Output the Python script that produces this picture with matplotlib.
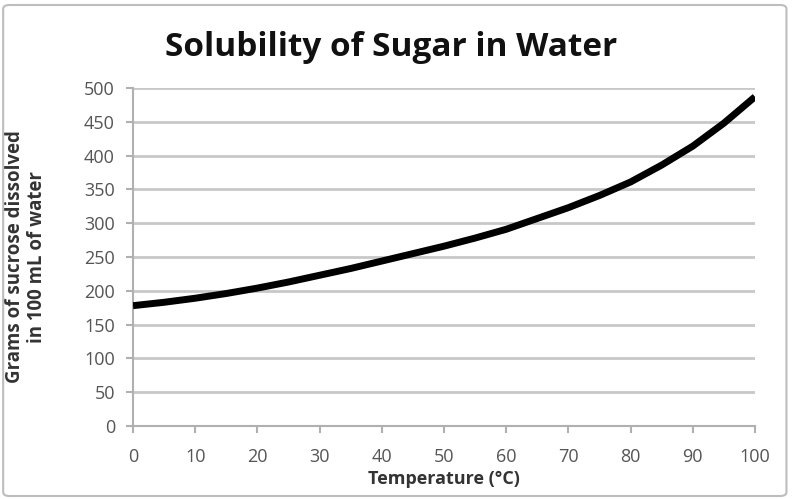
import matplotlib.pyplot as plt
from matplotlib.patches import FancyBboxPatch

# values every 5 degrees
temperature = [0, 5, 10, 15, 20, 25, 30, 35, 40, 45, 50, 55, 60, 65, 70, 75, 80, 85, 90, 95, 100]
grams_sucrose = [178, 183, 189, 196, 204, 213, 223, 233, 244, 255, 266, 278, 291, 307, 323, 341, 361, 386, 414,
                 448, 487]
x_ticks = [0, 10, 20, 30, 40, 50, 60, 70, 80, 90, 100]
y_ticks = [0, 50, 100, 150, 200, 250, 300, 350, 400, 450, 500]

plt.rcParams['font.family'] = ['Open Sans', 'DejaVu Sans']

fig = plt.figure(figsize=(7.92, 4.99), dpi=100)
ax = fig.add_axes([133 / 792, 1 - 426 / 499, (755 - 133) / 792, (426 - 88) / 499])

# frame around the whole chart
fig.patches.append(FancyBboxPatch((0.004, 0.006), 0.989, 0.984, boxstyle='round,pad=0,rounding_size=0.008',
                                  transform=fig.transFigure, fill=False, edgecolor='#bdbdbd', linewidth=1.5))

ax.plot(temperature, grams_sucrose, color='black', linewidth=5, solid_capstyle='butt',
        solid_joinstyle='round', zorder=3)

ax.set_xlim(0, 100)
ax.set_ylim(0, 500)
ax.set_xticks(x_ticks)
ax.set_yticks(y_ticks)
ax.yaxis.grid(True, color='#c8c8c8', linewidth=2)
ax.set_axisbelow(True)
for side in ['top', 'right']:
    ax.spines[side].set_visible(False)
for side in ['left', 'bottom']:
    ax.spines[side].set_color('#b0b0b0')
    ax.spines[side].set_linewidth(1.5)
ax.tick_params(axis='x', colors='#b0b0b0', labelcolor='#555555', labelsize=13, length=5, width=1.5, pad=11)
ax.tick_params(axis='y', colors='#b0b0b0', labelcolor='#555555', labelsize=13, length=5, width=1.5, pad=8)

fig.text(391 / 792, 1 - 47 / 499, 'Solubility of Sugar in Water', ha='center', va='center',
         fontsize=24, fontweight='bold', color='#111111')
ax.set_xlabel('Temperature (°C)', fontsize=13, fontweight='bold', color='#333333', va='center')
ax.xaxis.set_label_coords(0.5, -0.157)
ax.set_ylabel('Grams of sucrose dissolved\nin 100 mL of water', fontsize=13.4, fontweight='bold',
              color='#333333', linespacing=1.1, va='center')
ax.yaxis.set_label_coords(-0.172, 0.5)

fig.savefig('out.png', dpi=100)
